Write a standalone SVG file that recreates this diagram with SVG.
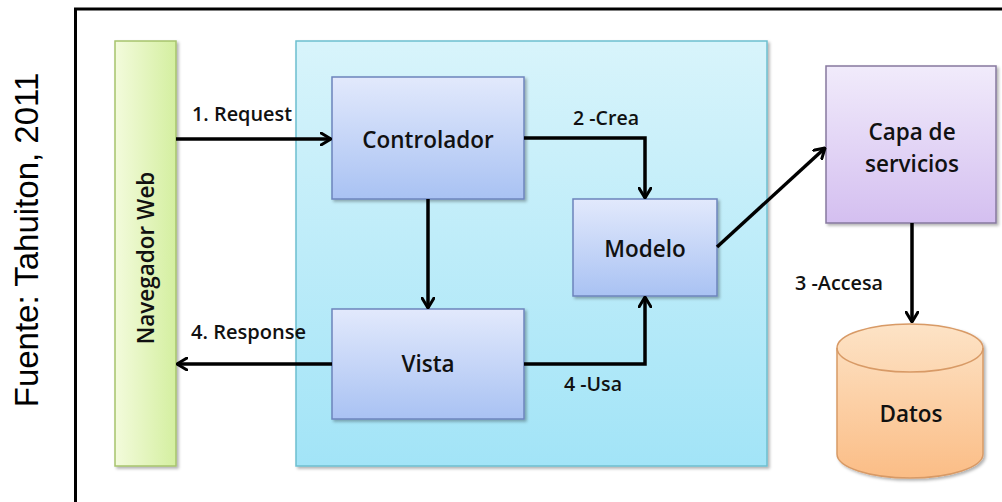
<svg xmlns="http://www.w3.org/2000/svg" width="1002" height="502" viewBox="0 0 1002 502">
  <defs>
    <linearGradient id="gWeb" x1="0" y1="0" x2="1" y2="0">
      <stop offset="0" stop-color="#f3fbdc"/>
      <stop offset="1" stop-color="#d4efa0"/>
    </linearGradient>
    <linearGradient id="gApp" x1="0" y1="0" x2="0" y2="1">
      <stop offset="0" stop-color="#d8f4fb"/>
      <stop offset="1" stop-color="#a2e4f7"/>
    </linearGradient>
    <linearGradient id="gBox" x1="0" y1="0" x2="0" y2="1">
      <stop offset="0" stop-color="#e2e9fc"/>
      <stop offset="1" stop-color="#a9c2f3"/>
    </linearGradient>
    <linearGradient id="gSvc" x1="0" y1="0" x2="0" y2="1">
      <stop offset="0" stop-color="#f1ebfb"/>
      <stop offset="1" stop-color="#d4bff0"/>
    </linearGradient>
    <linearGradient id="gDb" x1="0" y1="0" x2="0" y2="1">
      <stop offset="0" stop-color="#fde3c6"/>
      <stop offset="1" stop-color="#fbbd86"/>
    </linearGradient>
    <filter id="shadow" x="-10%" y="-10%" width="130%" height="130%">
      <feDropShadow dx="2" dy="2" stdDeviation="1.5" flood-color="#000" flood-opacity="0.3"/>
    </filter>
    <marker id="arrow" viewBox="0 0 12 14" refX="11" refY="7" markerWidth="12" markerHeight="14" markerUnits="userSpaceOnUse" orient="auto">
      <path d="M1,1 L11,7 L1,13" fill="none" stroke="#000" stroke-width="3" stroke-linecap="round" stroke-linejoin="round"/>
    </marker>
  </defs>
  <style>
    .frame { fill: none; stroke: #000; stroke-width: 3; }
    .source { font-family: "Liberation Sans", Arial, sans-serif; font-size: 33px; fill: #000; }
    .box { stroke-width: 1.5; filter: url(#shadow); }
    .lbl { font-family: "Open Sans", "DejaVu Sans", sans-serif; font-weight: 600; font-size: 22.5px; fill: #111; text-anchor: middle; }
    .elbl { font-family: "Open Sans", "DejaVu Sans", sans-serif; font-weight: 600; font-size: 20px; fill: #111; }
    .conn { fill: none; stroke: #000; stroke-width: 3.5; marker-end: url(#arrow); }
  </style>

  <rect width="1002" height="502" fill="#fff"/>

  <!-- outer frame, open past the right and bottom edges -->
  <rect class="frame" x="75.5" y="9" width="960" height="520"/>

  <!-- source caption -->
  <text class="source" transform="translate(38,240) rotate(-90)" text-anchor="middle">Fuente: Tahuiton, 2011</text>

  <!-- web browser -->
  <g id="navegador">
    <rect class="box" x="115" y="41" width="61" height="425" fill="url(#gWeb)" stroke="#a7c46c"/>
    <text class="lbl" transform="translate(154,258) rotate(-90)" font-size="21px">Navegador Web</text>
  </g>

  <!-- application container -->
  <g id="aplicacion">
    <rect class="box" x="296" y="41" width="471" height="425" fill="url(#gApp)" stroke="#6cbfcf"/>
  </g>

  <g id="controlador">
    <rect class="box" x="332" y="77" width="192" height="122" fill="url(#gBox)" stroke="#6c84bc"/>
    <text class="lbl" x="428" y="148">Controlador</text>
  </g>

  <g id="modelo">
    <rect class="box" x="573" y="199" width="144" height="97" fill="url(#gBox)" stroke="#6c84bc"/>
    <text class="lbl" x="645" y="257">Modelo</text>
  </g>

  <g id="vista">
    <rect class="box" x="332" y="309" width="192" height="110" fill="url(#gBox)" stroke="#6c84bc"/>
    <text class="lbl" x="428" y="372">Vista</text>
  </g>

  <g id="servicios">
    <rect class="box" x="826" y="66" width="170" height="157" fill="url(#gSvc)" stroke="#86789e"/>
    <text class="lbl" x="912" y="140">Capa de</text>
    <text class="lbl" x="912" y="172">servicios</text>
  </g>

  <g id="datos">
    <path class="box" d="M837,348 L837,454 A73,24 0 0 0 983,454 L983,348 A73,24 0 0 0 837,348 Z" fill="url(#gDb)" stroke="#d89a66"/>
    <path d="M837,348 A73,24 0 0 0 983,348" fill="none" stroke="#d89a66" stroke-width="1.5"/>
    <text class="lbl" x="911" y="422">Datos</text>
  </g>

  <!-- connectors -->
  <g id="connectors">
    <path class="conn" d="M176,139 L331,139"/>
    <path class="conn" d="M524,138 L645,138 L645,198"/>
    <path class="conn" d="M428,199 L428,308"/>
    <path class="conn" d="M524,364 L645,364 L645,297"/>
    <path class="conn" d="M332,364 L177,364"/>
    <path class="conn" d="M717,247 L825,148"/>
    <path class="conn" d="M912,223 L912,322"/>

    <text class="elbl" x="192" y="121" textLength="100" lengthAdjust="spacingAndGlyphs">1. Request</text>
    <text class="elbl" x="573" y="125" textLength="66" lengthAdjust="spacingAndGlyphs">2 -Crea</text>
    <text class="elbl" x="795" y="290" textLength="88" lengthAdjust="spacingAndGlyphs">3 -Accesa</text>
    <text class="elbl" x="191" y="339" textLength="115" lengthAdjust="spacingAndGlyphs">4. Response</text>
    <text class="elbl" x="564" y="391" textLength="58" lengthAdjust="spacingAndGlyphs">4 -Usa</text>
  </g>
</svg>
